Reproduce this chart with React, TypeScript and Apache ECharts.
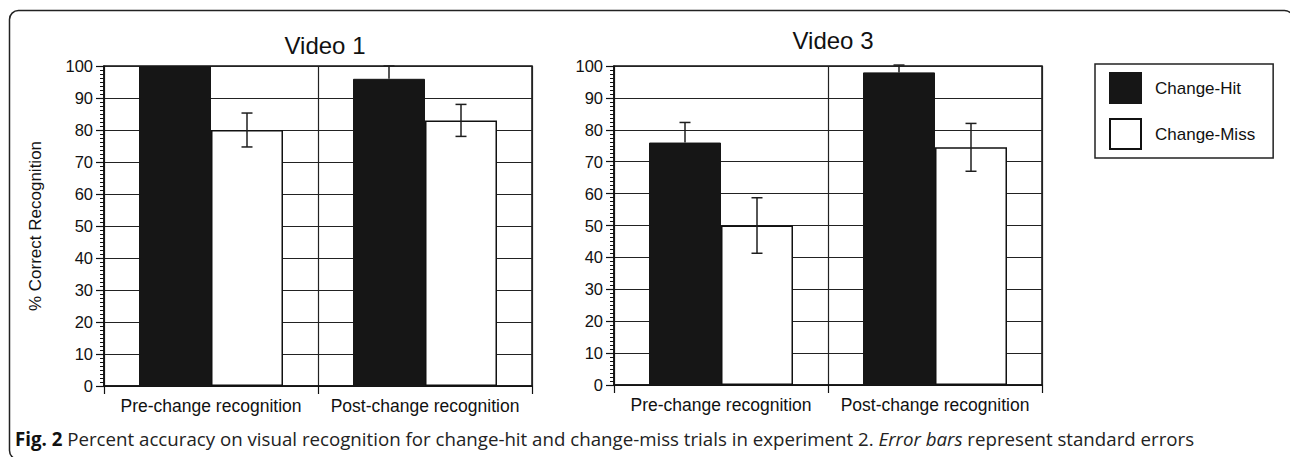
import React, { useEffect, useRef } from "react";
import * as echarts from "echarts";

// Categories and values (percent correct recognition, with standard errors)
const categories = ["Pre-change recognition", "Post-change recognition"];
const seriesNames = ["Change-Hit", "Change-Miss"];

const video1Hit = [100, 96];
const video1HitErr = [0, 4];
const video1Miss = [80, 83];
const video1MissErr = [5.3, 5];

const video3Hit = [76, 98];
const video3HitErr = [6.3, 2.3];
const video3Miss = [50, 74.5];
const video3MissErr = [8.7, 7.5];

const panelTitles = ["Video 1", "Video 3"];
const yAxisName = "% Correct Recognition";
const captionBold = "Fig. 2";
const captionText = " Percent accuracy on visual recognition for change-hit and change-miss trials in experiment 2. ";
const captionItalic = "Error bars";
const captionTail = " represent standard errors";

const FONT = "'Liberation Sans', Arial, Helvetica, sans-serif";
const CAPTION_FONT = "'Open Sans', sans-serif";
const BAR_W = 72;
const INK = "#161616";

// Error bars; on the dark bars only the part above the bar shows
function errorSeries(values: number[], errs: number[], gridIdx: number, side: number, upperOnly: boolean) {
  return {
    type: "custom",
    xAxisIndex: gridIdx,
    yAxisIndex: gridIdx,
    z: 5,
    silent: true,
    data: values.map((v, i) => [i, v, errs[i]]),
    encode: { x: 0, y: 1 },
    renderItem: (_params: any, api: any) => {
      const i = api.value(0);
      const v = api.value(1);
      const e = api.value(2);
      if (!e) return { type: "group", children: [] };
      const mid = api.coord([i, v]);
      const hi = api.coord([i, v + e]);
      const lo = api.coord([i, v - e]);
      const x = hi[0] + (side * BAR_W) / 2;
      const style = { stroke: "#1e1e1e", lineWidth: 1.5 };
      const cap = 5.5;
      const children: any[] = [
        { type: "line", shape: { x1: x, y1: hi[1], x2: x, y2: upperOnly ? mid[1] : lo[1] }, style },
        { type: "line", shape: { x1: x - cap, y1: hi[1], x2: x + cap, y2: hi[1] }, style },
      ];
      if (!upperOnly) {
        children.push({ type: "line", shape: { x1: x - cap, y1: lo[1], x2: x + cap, y2: lo[1] }, style });
      }
      return { type: "group", children };
    },
  };
}

function barSeries(name: string, values: number[], gridIdx: number, hit: boolean) {
  return {
    name,
    type: "bar",
    xAxisIndex: gridIdx,
    yAxisIndex: gridIdx,
    barWidth: BAR_W,
    barGap: "0%",
    data: values,
    itemStyle: hit
      ? { color: INK, borderColor: INK, borderWidth: 1 }
      : { color: "#ffffff", borderColor: "#111", borderWidth: 1.5 },
  };
}

function xAxis(gridIndex: number) {
  return {
    type: "category",
    gridIndex,
    data: categories,
    axisLine: { show: true, lineStyle: { color: "#111", width: 1.5 } },
    axisTick: { show: true, length: 8, interval: 0, lineStyle: { color: "#111", width: 1.2 } },
    axisLabel: { interval: 0, margin: 11, fontSize: 17.5, fontFamily: FONT, color: "#111" },
    splitLine: { show: true, interval: 0, lineStyle: { color: "#222", width: 1.2 } },
  };
}

function yAxis(gridIndex: number, withName: boolean) {
  return {
    type: "value",
    gridIndex,
    min: 0,
    max: 100,
    interval: 10,
    name: withName ? yAxisName : "",
    nameLocation: "middle",
    nameGap: 60,
    nameTextStyle: { fontSize: 17, fontFamily: FONT, color: "#111" },
    axisLine: { show: true, lineStyle: { color: "#111", width: 1.5 } },
    axisTick: { show: true, length: 8, lineStyle: { color: "#111", width: 1.2 } },
    minorTick: { show: true, splitNumber: 8, length: 4, lineStyle: { color: "#111", width: 1 } },
    axisLabel: { margin: 11, fontSize: 16.5, fontFamily: FONT, color: "#111" },
    splitLine: { show: true, lineStyle: { color: "#222", width: 1.2 } },
  };
}

export default function App() {
  const ref = useRef<HTMLDivElement>(null);

  useEffect(() => {
    if (!ref.current) return;
    const chart = echarts.init(ref.current, undefined, { renderer: "svg" });
    chart.setOption({
      animation: false,
      backgroundColor: "#ffffff",
      title: [
        {
          text: panelTitles[0],
          left: 320,
          top: 28,
          textAlign: "center",
          textStyle: { fontSize: 24, fontWeight: "normal", fontFamily: FONT, color: "#111" },
        },
        {
          text: panelTitles[1],
          left: 828,
          top: 23,
          textAlign: "center",
          textStyle: { fontSize: 24, fontWeight: "normal", fontFamily: FONT, color: "#111" },
        },
      ],
      legend: {
        data: seriesNames,
        orient: "vertical",
        left: 1095,
        top: 64,
        padding: [8, 18, 8, 14],
        itemWidth: 31,
        itemHeight: 30,
        itemGap: 14,
        icon: "rect",
        selectedMode: false,
        borderColor: "#222",
        borderWidth: 1.5,
        textStyle: { fontSize: 17, fontFamily: FONT, color: "#111", padding: [0, 0, 0, 9] },
      },
      grid: [
        { left: 104, top: 66, width: 428, height: 320, show: true, borderColor: "#111", borderWidth: 1.5, backgroundColor: "transparent" },
        { left: 614, top: 66, width: 428, height: 319, show: true, borderColor: "#111", borderWidth: 1.5, backgroundColor: "transparent" },
      ],
      xAxis: [xAxis(0), xAxis(1)],
      yAxis: [yAxis(0, true), yAxis(1, false)],
      series: [
        barSeries(seriesNames[0], video1Hit, 0, true),
        barSeries(seriesNames[1], video1Miss, 0, false),
        barSeries(seriesNames[0], video3Hit, 1, true),
        barSeries(seriesNames[1], video3Miss, 1, false),
        errorSeries(video1Hit, video1HitErr, 0, -1, true),
        errorSeries(video1Miss, video1MissErr, 0, 1, false),
        errorSeries(video3Hit, video3HitErr, 1, -1, true),
        errorSeries(video3Miss, video3MissErr, 1, 1, false),
      ],
      graphic: [
        {
          type: "rect",
          silent: true,
          shape: { x: 9.5, y: 10.5, width: 1284, height: 449, r: 9 },
          style: { fill: "none", stroke: "#222", lineWidth: 1.5 },
        },
        {
          type: "text",
          left: 15,
          top: 429,
          style: {
            text: `{b|${captionBold}}{n|${captionText}}{i|${captionItalic}}{n|${captionTail}}`,
            rich: {
              b: { fontSize: 18.7, fontWeight: "bold", fontFamily: CAPTION_FONT, fill: "#111" },
              n: { fontSize: 18.7, fontFamily: CAPTION_FONT, fill: "#222" },
              i: { fontSize: 18.7, fontStyle: "italic", fontFamily: CAPTION_FONT, fill: "#222" },
            },
          },
        },
      ],
    });
    return () => chart.dispose();
  }, []);

  return (
    <div
      ref={ref}
      style={{ position: "fixed", left: 0, top: 0, width: 1290, height: 457, background: "#fff" }}
    />
  );
}
